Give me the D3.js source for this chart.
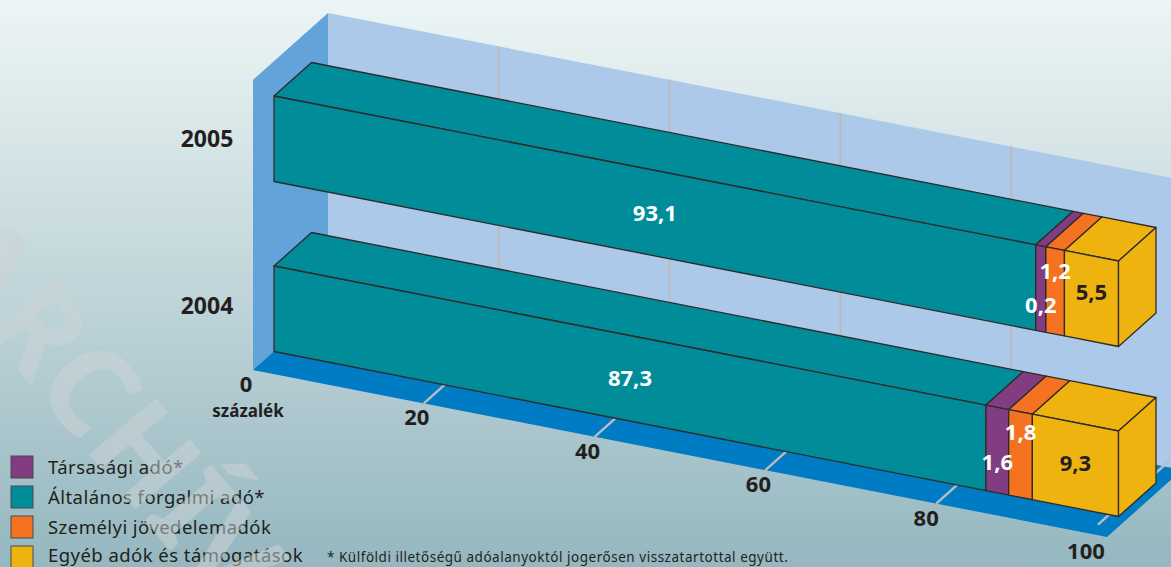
<!DOCTYPE html>
<html>
<head>
  <meta charset="utf-8">
  <title>Adók megoszlása 2004-2005</title>
  <style type="text/css">
      html, body { margin: 0; padding: 0; overflow: hidden; }
      svg { display: block; }
      text { font-family: "Noto Sans", "Open Sans", sans-serif; fill: #231f20; }
      .num { font-size: 22px; font-weight: 700; text-anchor: middle; }
      .legend { font-size: 18.5px; letter-spacing: 0.45px; }
      .note { font-size: 13.5px; letter-spacing: 0.52px; }
  </style>
</head>
<body>
  <svg width="1171" height="567"></svg>
  <script src="https://d3js.org/d3.v7.min.js"></script>
  <script>
  // 1. data
  const years = ["2005", "2004"];
  const seriesNames = ["Általános forgalmi adó*", "Társasági adó*", "Személyi jövedelemadók", "Egyéb adók és támogatások"];
  const legendOrder = [1, 0, 2, 3];
  const seriesColors = ["#008c99", "#823c82", "#f57320", "#efb30f"];
  // printed numbers
  const labels2005 = ["93,1", "0,2", "1,2", "5,5"];
  const labels2004 = ["87,3", "1,6", "1,8", "9,3"];
  // widths of the segments as they are drawn in the picture (they differ from the printed numbers)
  const drawn2005 = [90.2, 1.2, 2.2, 6.4];
  const drawn2004 = [84.3, 2.7, 2.8, 10.2];
  const wallTicks = [20, 40, 60, 80];
  const axisTicks = [0, 20, 40, 60, 80, 100];
  const footnote = "* Külföldi illetőségű adóalanyoktól jogerősen visszatartottal együtt.";

  const width = 1171, height = 567;
  const svg = d3.select("svg");

  // 2. scales: the chart is an oblique projection, x runs downhill
  const floorX = d3.scaleLinear().domain([0, 100]).range([253, 1107]);
  const floorY = d3.scaleLinear().domain([0, 100]).range([370, 537]);
  const barX = d3.scaleLinear().domain([0, 100]).range([274, 1118.5]);
  const barDrop = d3.scaleLinear().domain([0, 100]).range([0, 165]);
  const barTop = d3.scaleOrdinal().domain(years).range([96, 266]);
  const barH = 85.5;
  const wallH = 290;
  const depth = [75, -67];      // floor depth
  const barDepth = [37.5, -33.5];
  const lineColor = "#2e2b2a";
  const gridColor = "#b9bdc3";

  const pts = a => a.map(p => p.join(",")).join(" ");
  const floorPt = (v, t) => [floorX(v) + depth[0] * t, floorY(v) + depth[1] * t];
  const wallPt = (v, t) => [floorPt(v, t)[0], floorPt(v, t)[1] - wallH];
  const poly = (a, fill) => svg.append("polygon").attr("points", pts(a)).attr("fill", fill);

  // 3. background
  let grad = svg.append("defs").append("linearGradient")
    .attr("id", "bg").attr("x1", 0).attr("x2", 0).attr("y1", 0).attr("y2", 1);
  grad.append("stop").attr("offset", 0).attr("stop-color", "#edf5f5");
  grad.append("stop").attr("offset", 1).attr("stop-color", "#95b7bf");
  svg.append("rect").attr("width", width).attr("height", height).attr("fill", "url(#bg)");

  // 4. legend and footnote, watermark goes over the legend
  let lg = svg.selectAll(".lg").data(legendOrder).enter().append("g")
    .attr("class", "lg")
    .attr("transform", (d, i) => "translate(11," + (456 + i * 30) + ")");
  lg.append("rect").attr("width", 22).attr("height", 22)
    .attr("fill", d => seriesColors[d])
    .attr("stroke", "#4a4a48").attr("stroke-width", 1);
  lg.append("text").attr("class", "legend").attr("x", 37)
    .attr("y", (d, i) => i === 3 ? 16 : 18)
    .text(d => seriesNames[d]);

  svg.append("text").attr("class", "note").attr("x", 327).attr("y", 562).text(footnote);

  svg.append("text").text("ARCHÍV")
    .attr("transform", "translate(-74,260) rotate(50)")
    .style("font-size", "122px").style("font-weight", 700)
    .style("fill", "#cdd4d7").style("opacity", 0.5);

  // 5. walls and floor
  poly([wallPt(0, 0), wallPt(0, 1), floorPt(0, 1), floorPt(0, 0)], "#62a3da");
  poly([wallPt(0, 1), wallPt(100, 1), floorPt(100, 1), floorPt(0, 1)], "#adc9ea");
  poly([floorPt(0, 0), floorPt(0, 1), floorPt(100, 1), floorPt(100, 0)], "#007cc5");

  // 6. grid
  svg.selectAll(".wallgrid").data(wallTicks).enter().append("line")
    .attr("x1", d => wallPt(d, 1)[0]).attr("y1", d => wallPt(d, 1)[1])
    .attr("x2", d => floorPt(d, 1)[0]).attr("y2", d => floorPt(d, 1)[1])
    .attr("stroke", gridColor).attr("stroke-width", 2.4);
  svg.selectAll(".floorgrid").data(wallTicks).enter().append("line")
    .attr("x1", d => floorPt(d, 0)[0]).attr("y1", d => floorPt(d, 0)[1])
    .attr("x2", d => floorPt(d, 1)[0]).attr("y2", d => floorPt(d, 1)[1])
    .attr("stroke", gridColor).attr("stroke-width", 2.4);
  // the 100 line sits a bit inside the corner
  svg.append("line")
    .attr("x1", floorPt(97.8, 0.13)[0]).attr("y1", floorPt(97.8, 0.13)[1])
    .attr("x2", floorPt(97.8, 1.1)[0]).attr("y2", floorPt(97.8, 1.1)[1])
    .attr("stroke", gridColor).attr("stroke-width", 2.4);

  // 7. bars
  const labelNudge = { "2005": [0, 16, -20, -6], "2004": [0, 12, -23, -2] };
  const labelFill = ["#fff", "#fff", "#fff", "#231f20"];

  function drawBar(year, drawn, printed) {
    let stops = d3.cumsum(drawn);
    let top = barTop(year);
    let front = v => [barX(v), top + barDrop(v)];
    let back = v => [barX(v) + barDepth[0], top + barDrop(v) + barDepth[1]];
    let low = v => [barX(v), top + barDrop(v) + barH];
    let g = svg.append("g")
      .attr("stroke", lineColor).attr("stroke-width", 1.3).attr("stroke-linejoin", "round");

    drawn.forEach((d, i) => {
      let a = i ? stops[i - 1] : 0, b = i === drawn.length - 1 ? 100 : stops[i];
      g.append("polygon").attr("fill", seriesColors[i])
        .attr("points", pts([front(a), back(a), back(b), front(b)]));
      g.append("polygon").attr("fill", seriesColors[i])
        .attr("points", pts([front(a), front(b), low(b), low(a)]));
    });
    // end cap
    g.append("polygon").attr("fill", seriesColors[3])
      .attr("points", pts([front(100), back(100), [back(100)[0], back(100)[1] + barH], low(100)]));

    drawn.forEach((d, i) => {
      let a = i ? stops[i - 1] : 0, b = i === drawn.length - 1 ? 100 : stops[i];
      let m = (a + b) / 2;
      svg.append("text").attr("class", "num")
        .attr("x", barX(m))
        .attr("y", top + barDrop(m) + barH / 2 + 8 + labelNudge[year][i])
        .style("fill", labelFill[i])
        .text(printed[i]);
    });
  }
  drawBar("2005", drawn2005, labels2005);
  drawBar("2004", drawn2004, labels2004);

  // 8. axis and year labels
  svg.selectAll(".tick").data(axisTicks).enter().append("text")
    .attr("class", "num")
    .attr("x", d => floorPt(d, 0)[0] - (d === 100 ? 21 : d === 80 ? 10 : 7))
    .attr("y", d => floorPt(d, 0)[1] + 22)
    .text(d => d);
  svg.append("text").attr("class", "num").attr("x", 248).attr("y", 417)
    .style("font-size", "17px").text("százalék");

  svg.selectAll(".year").data(years).enter().append("text")
    .attr("class", "num").attr("x", 207)
    .attr("y", d => barTop(d) + (d === "2005" ? 51 : 48))
    .style("font-size", "23px")
    .text(d => d);
  </script>
</body>
</html>
